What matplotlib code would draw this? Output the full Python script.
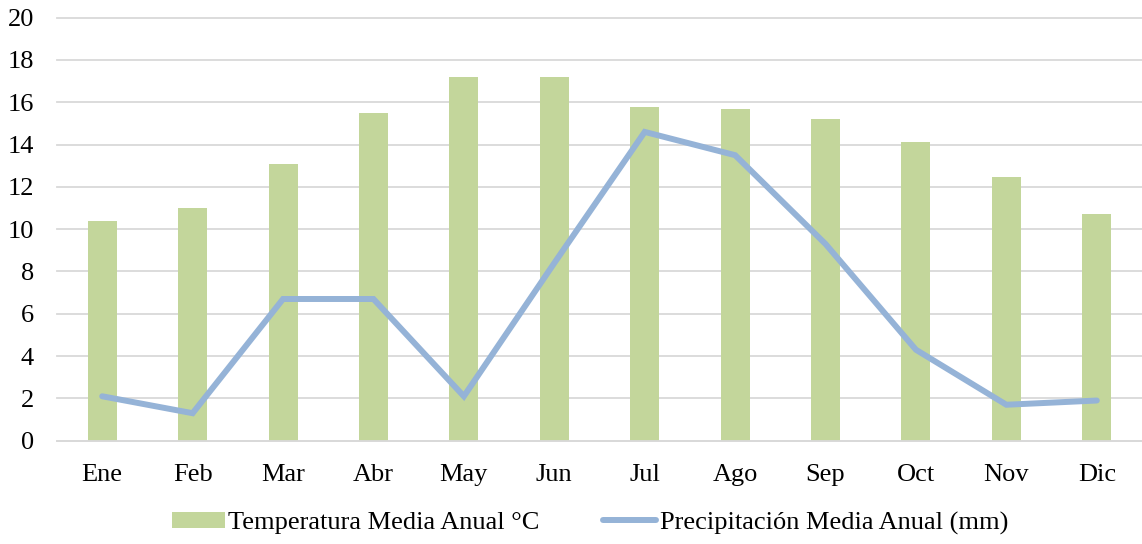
import matplotlib
matplotlib.use("Agg")
import matplotlib.pyplot as plt
import numpy as np

months = ["Ene", "Feb", "Mar", "Abr", "May", "Jun", "Jul", "Ago", "Sep", "Oct", "Nov", "Dic"]
temperatura = [10.4, 11.0, 13.1, 15.5, 17.2, 17.2, 15.8, 15.7, 15.2, 14.1, 12.45, 10.7]
precipitacion = [2.1, 1.3, 6.7, 6.7, 2.1, 8.4, 14.6, 13.5, 9.3, 4.3, 1.7, 1.9]
yticks = list(range(0, 21, 2))

plt.rcParams['font.family'] = ['Liberation Serif', 'DejaVu Serif']

fig = plt.figure(figsize=(11.42, 5.44), dpi=100)
ax = fig.add_axes([57/1142, 1-440.7/544, 1-57/1142, (440.7-17.7)/544])

x = np.arange(len(months))
bars = ax.bar(x, temperatura, width=0.32, color="#C3D69B", zorder=2,
              label="Temperatura Media Anual °C")
line, = ax.plot(x, precipitacion, color="#95B3D7", lw=4.3, solid_capstyle="round",
                solid_joinstyle="miter", zorder=3, label="Precipitación Media Anual (mm)")

ax.set_xlim(-0.5, len(months) - 0.5)
ax.set_ylim(0, 20)
ax.set_yticks(yticks)
ax.set_xticks(x)
ax.set_xticklabels(months)
ax.yaxis.grid(True, color="#D9D9D9", lw=1.3, zorder=0)
for gl in ax.get_ygridlines():
    gl.set_clip_on(False)
ax.set_axisbelow(True)
for s in ["top", "right", "left"]:
    ax.spines[s].set_visible(False)
ax.spines["bottom"].set_color("#D9D9D9")
ax.spines["bottom"].set_linewidth(1.3)
ax.tick_params(axis="both", length=0, labelsize=19, colors="black")
ax.tick_params(axis="y", pad=16.5)
ax.tick_params(axis="x", pad=16.5)

leg = fig.legend([bars, line], [bars.get_label(), line.get_label()],
                 loc="center", bbox_to_anchor=(590/1142, 1-523/544), ncol=2, frameon=False,
                 fontsize=19, handlelength=2.0, handletextpad=0.15, columnspacing=2.4,
                 handleheight=0.55, borderpad=0)

fig.savefig("out.png", dpi=100)
